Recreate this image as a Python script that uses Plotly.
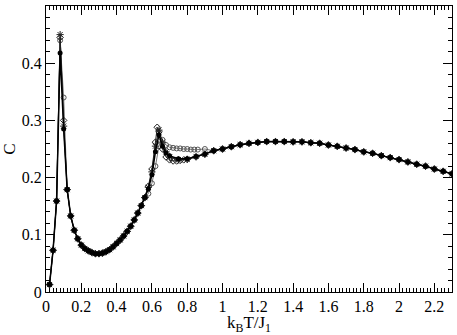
import plotly.graph_objects as go

# shared parts of the curves
T_LOW = [0.12, 0.14, 0.16, 0.18, 0.20, 0.22, 0.24, 0.26, 0.28, 0.30, 0.32, 0.34,
         0.36, 0.38, 0.40, 0.42, 0.44, 0.46, 0.48, 0.50, 0.52, 0.54, 0.56]
C_LOW = [0.179, 0.133, 0.108, 0.093, 0.082, 0.076, 0.072, 0.069, 0.067, 0.067,
         0.068, 0.0705, 0.074, 0.079, 0.085, 0.091, 0.098, 0.106, 0.115, 0.126,
         0.138, 0.151, 0.165]

T_HIGH = [0.95, 1.00, 1.05, 1.10, 1.15, 1.20, 1.25, 1.30, 1.35, 1.40, 1.45, 1.50,
          1.55, 1.60, 1.65, 1.70, 1.75, 1.80, 1.85, 1.90, 1.95, 2.00, 2.05, 2.10,
          2.15, 2.20, 2.25, 2.30]
C_HIGH = [0.247, 0.250, 0.254, 0.2575, 0.260, 0.2615, 0.263, 0.263, 0.263, 0.2625,
          0.2625, 0.261, 0.260, 0.257, 0.2547, 0.2517, 0.249, 0.245, 0.2425, 0.2384,
          0.235, 0.2315, 0.2274, 0.2234, 0.220, 0.215, 0.211, 0.2066]

T_START = [0.02, 0.04, 0.06, 0.08, 0.10]
C_START_A = [0.013, 0.073, 0.159, 0.418, 0.285]
C_START_B = [0.013, 0.073, 0.159, 0.440, 0.340]
C_START_C = [0.013, 0.073, 0.159, 0.445, 0.300]
C_START_D = [0.013, 0.073, 0.159, 0.450, 0.290]

T_PEAK_A = [0.58, 0.60, 0.62, 0.64, 0.66, 0.68, 0.70, 0.75, 0.80, 0.85, 0.90]
C_PEAK_A = [0.180, 0.205, 0.245, 0.275, 0.255, 0.243, 0.238, 0.233, 0.233, 0.237, 0.241]

T_PEAK_B = [0.58, 0.60, 0.62, 0.64, 0.66, 0.68, 0.70, 0.72, 0.74, 0.76, 0.78, 0.80,
            0.82, 0.84, 0.86, 0.90]
C_PEAK_B = [0.172, 0.190, 0.220, 0.255, 0.266, 0.257, 0.253, 0.252, 0.251, 0.251,
            0.250, 0.250, 0.249, 0.249, 0.249, 0.250]

T_PEAK_C = [0.58, 0.60, 0.62, 0.63, 0.64, 0.66, 0.68, 0.70, 0.72, 0.74, 0.76, 0.78,
            0.80, 0.85, 0.90]
C_PEAK_C = [0.185, 0.215, 0.262, 0.288, 0.280, 0.250, 0.236, 0.231, 0.229, 0.229,
            0.230, 0.231, 0.232, 0.236, 0.241]

T_PEAK_D = [0.58, 0.60, 0.62, 0.64, 0.66, 0.68, 0.70, 0.75, 0.80, 0.85, 0.90]
C_PEAK_D = [0.183, 0.210, 0.255, 0.283, 0.262, 0.245, 0.236, 0.231, 0.232, 0.237, 0.241]

FONT = "Liberation Serif, Times New Roman, serif"


def series(start, peak_t, peak_c):
    x = T_START + T_LOW + peak_t + T_HIGH
    y = start + C_LOW + peak_c + C_HIGH
    return x, y


fig = go.Figure()

styles = [
    (C_START_B, T_PEAK_B, C_PEAK_B, "#777777", 1, dict(symbol="circle-open", size=5,
                                                        color="#555555", line=dict(width=1))),
    (C_START_C, T_PEAK_C, C_PEAK_C, "#222222", 1, dict(symbol="diamond-open", size=5,
                                                        color="#222222", line=dict(width=1))),
    (C_START_D, T_PEAK_D, C_PEAK_D, "#222222", 1, dict(symbol="asterisk-open", size=6,
                                                        color="#222222", line=dict(width=1))),
    (C_START_A, T_PEAK_A, C_PEAK_A, "black", 1.5, dict(symbol="circle", size=5,
                                                        color="black")),
]

for start, pt, pc, lc, lw, marker in styles:
    x, y = series(start, pt, pc)
    fig.add_trace(go.Scatter(x=x, y=y, mode="lines+markers",
                             line=dict(color=lc, width=lw), marker=marker,
                             showlegend=False))

axis_common = dict(
    showgrid=False, zeroline=False, showline=True, linecolor="black", linewidth=1,
    mirror="ticks", ticks="inside", ticklen=9, tickwidth=1, tickcolor="black",
    tickfont=dict(family=FONT, size=16, color="black"),
)

fig.update_xaxes(range=[0, 2.3], dtick=0.2, tick0=0,
                 minor=dict(dtick=0.02, ticks="inside", ticklen=4, tickcolor="black"),
                 title=dict(text="k<sub>B</sub>T/J<sub>1</sub>", standoff=4,
                            font=dict(family=FONT, size=17, color="black")),
                 **axis_common)
fig.update_yaxes(range=[0, 0.5], dtick=0.1, tick0=0,
                 minor=dict(dtick=0.02, ticks="inside", ticklen=4, tickcolor="black"),
                 title=dict(text="C", standoff=6,
                            font=dict(family=FONT, size=17, color="black")),
                 **axis_common)

fig.update_layout(
    width=457, height=335,
    margin=dict(l=42, r=4, t=6, b=41),
    plot_bgcolor="white", paper_bgcolor="white",
    font=dict(family=FONT, color="black"),
)

# the page body has a default margin; remove it so the figure sits at 0,0
fig.write_html("out.html",
               config={"displayModeBar": False},
               post_script="document.body.style.margin='0';"
                           "document.body.style.overflow='hidden';")
